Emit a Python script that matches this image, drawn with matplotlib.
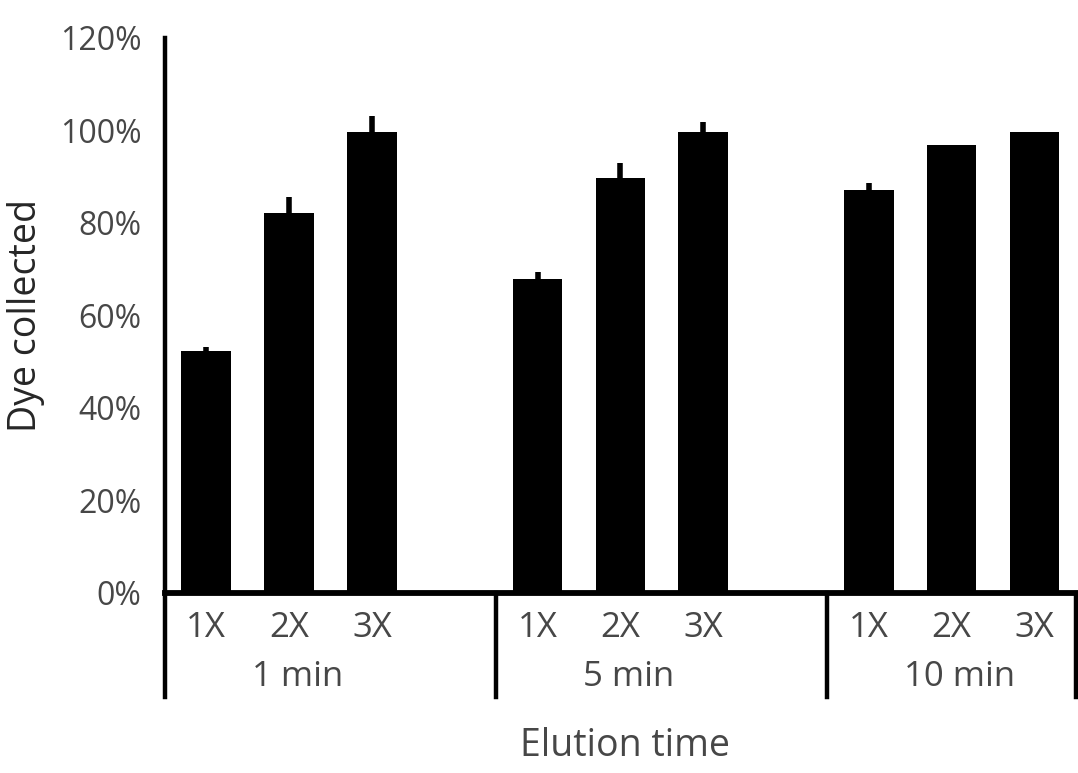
import numpy as np
import matplotlib
matplotlib.use("Agg")
import matplotlib.pyplot as plt
from matplotlib.lines import Line2D
from matplotlib.ticker import PercentFormatter

# data (percent)
groups = ["1 min", "5 min", "10 min"]
doses = ["1X", "2X", "3X"]
values = [[52.3, 82.2, 99.7],
          [67.9, 89.7, 99.7],
          [87.1, 96.9, 99.7]]
err_up = [[0.9, 3.4, 3.4],
          [1.5, 3.3, 2.1],
          [1.5, 0.0, 0.0]]

plt.rcParams['font.family'] = ['Open Sans', 'DejaVu Sans']
grey = '#474747'

fig = plt.figure(figsize=(10.78, 7.73), dpi=100)
ax = fig.add_axes([0.153, 0.233, 0.845, 0.718])

# each group takes 4 slots : 3 bars + 1 empty slot
slot = 4
xs = []
for g in range(len(groups)):
    for d in range(len(doses)):
        xs.append(g * slot + d)
xs = np.array(xs)
vals = np.array(values).ravel()
errs = np.array(err_up).ravel()

ax.bar(xs, vals, width=0.6, color='black', zorder=2)
ax.errorbar(xs, vals, yerr=[np.zeros_like(errs), errs], fmt='none',
            ecolor='black', elinewidth=4, capsize=0, zorder=1)

ax.set_xlim(-0.5, 10.5)
ax.set_ylim(0, 120)
ax.set_yticks(np.arange(0, 121, 20))
ax.yaxis.set_major_formatter(PercentFormatter(decimals=0))
ax.tick_params(axis='y', length=0, labelsize=23, labelcolor=grey, pad=17)
ax.set_xticks([])

for s in ['top', 'right']:
    ax.spines[s].set_visible(False)
ax.spines['left'].set_linewidth(3.2)
ax.spines['bottom'].set_linewidth(4.2)

# x labels, dividers
trans = ax.get_xaxis_transform()
for x, lab in zip(xs, doses * len(groups)):
    ax.text(x, -0.064, lab, transform=trans, ha='center', va='center',
            fontsize=25, color=grey)
for g, name in enumerate(groups):
    ax.text(g * slot + 1.1, -0.152, name, transform=trans, ha='center',
            va='center', fontsize=25, color=grey)
for xd in [-0.5, 3.5, 7.5, 10.5]:
    ax.add_line(Line2D([xd, xd], [0, -0.187], transform=trans, color='black',
                       lw=3.2, clip_on=False))

ax.text(0.505, -0.276, "Elution time", transform=ax.transAxes, ha='center',
        va='center', fontsize=27, color=grey)
ax.text(-0.152, 0.5, "Dye collected", transform=ax.transAxes, ha='center',
        va='center', rotation=90, fontsize=27, color='#262626')

fig.savefig("out.png", dpi=100)
